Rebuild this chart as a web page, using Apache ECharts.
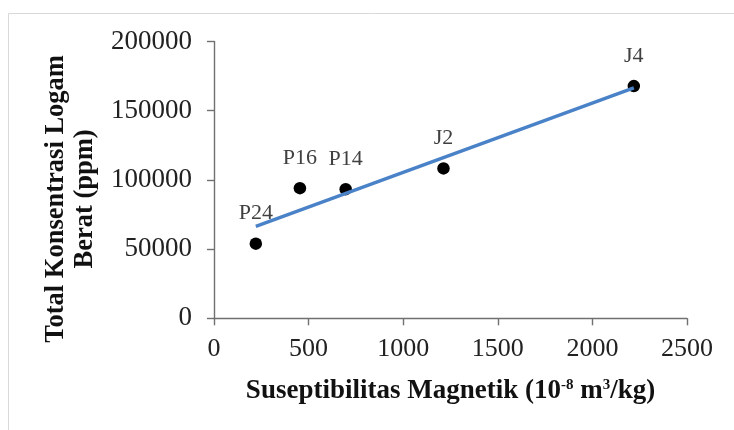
<!DOCTYPE html>
<html><head><meta charset="utf-8">
<script src="https://cdn.jsdelivr.net/npm/echarts@6/dist/echarts.min.js"></script>
<style>html,body{margin:0;padding:0;background:#fff;}#c{width:734px;height:430px;}</style>
</head><body><div id="c"></div>
<script>
var sampleNames = ['P24', 'P16', 'P14', 'J2', 'J4'];
var susceptibility = [221, 454, 696, 1213, 2219];
var metalTotal = [53900, 94000, 93300, 108300, 167800];
var xTicks = [0, 500, 1000, 1500, 2000, 2500];
var yTicks = [0, 50000, 100000, 150000, 200000];

// least-squares trendline from the data
var n = susceptibility.length, mx = 0, my = 0;
for (var i = 0; i < n; i++) { mx += susceptibility[i]; my += metalTotal[i]; }
mx /= n; my /= n;
var sxx = 0, sxy = 0;
for (var i = 0; i < n; i++) { sxx += (susceptibility[i]-mx)*(susceptibility[i]-mx); sxy += (susceptibility[i]-mx)*(metalTotal[i]-my); }
var slope = sxy / sxx, icpt = my - slope * mx;
var xMin = Math.min.apply(null, susceptibility), xMax = Math.max.apply(null, susceptibility);
var trend = [[xMin, icpt + slope * xMin], [xMax, icpt + slope * xMax]];

var pts = susceptibility.map(function (x, i) { return { value: [x, metalTotal[i]], name: sampleNames[i] }; });
var serif = 'Liberation Serif';
var axisCol = '#707070';
var chart = echarts.init(document.getElementById('c'), null, { renderer: 'canvas' });
chart.setOption({
  animation: false,
  backgroundColor: '#fff',
  graphic: [{ type: 'rect', shape: { x: 8.5, y: 13.5, width: 760, height: 460 }, style: { fill: 'none', stroke: '#d9d9d9', lineWidth: 1 }, z: -10 }],
  grid: { left: 214, right: 47, top: 41.5, bottom: 111.7, containLabel: false },
  xAxis: {
    type: 'value', min: xTicks[0], max: xTicks[xTicks.length - 1], interval: 500,
    splitLine: { show: false },
    axisLine: { onZero: false, lineStyle: { color: axisCol, width: 1.4 } },
    axisTick: { show: true, length: 7, lineStyle: { color: axisCol, width: 1.4 } },
    axisLabel: { color: '#222', fontFamily: serif, fontSize: 26, margin: 18, formatter: function (v) { return String(v); } },
    name: '{b|Suseptibilitas Magnetik (10}{s|-8}{b| m}{s|3}{b|/kg)}',
    nameLocation: 'middle', nameGap: 56,
    nameTextStyle: {
      rich: {
        b: { fontFamily: serif, fontWeight: 'bold', fontSize: 27, color: '#111', lineHeight: 30, verticalAlign: 'bottom' },
        s: { fontFamily: serif, fontWeight: 'bold', fontSize: 15, color: '#111', lineHeight: 30, verticalAlign: 'top', padding: [3, 0, 0, 0] }
      }
    }
  },
  yAxis: {
    type: 'value', min: yTicks[0], max: yTicks[yTicks.length - 1], interval: 50000,
    splitLine: { show: false },
    axisLine: { show: true, lineStyle: { color: axisCol, width: 1.4 } },
    axisTick: { show: true, length: 7, lineStyle: { color: axisCol, width: 1.4 } },
    axisLabel: { color: '#222', fontFamily: serif, fontSize: 27, margin: 22, formatter: function (v) { return String(v); } },
    name: 'Total Konsentrasi Logam\nBerat (ppm)',
    nameLocation: 'middle', nameRotate: 90, nameGap: 103,
    nameTextStyle: { fontFamily: serif, fontWeight: 'bold', fontSize: 26.5, color: '#111', lineHeight: 29, padding: [0, 38, 0, 0] }
  },
  series: [
    {
      type: 'line', data: trend, showSymbol: false, symbol: 'none',
      lineStyle: { color: '#4A82C8', width: 3.4 }, z: 3, silent: true
    },
    {
      type: 'scatter', data: pts, symbol: 'circle', symbolSize: 12.5,
      itemStyle: { color: '#000', opacity: 1 }, z: 2,
      label: { show: true, position: 'top', distance: 13, formatter: '{b}', fontFamily: serif, fontSize: 22, color: '#404040' }
    }
  ]
});
</script></body></html>
